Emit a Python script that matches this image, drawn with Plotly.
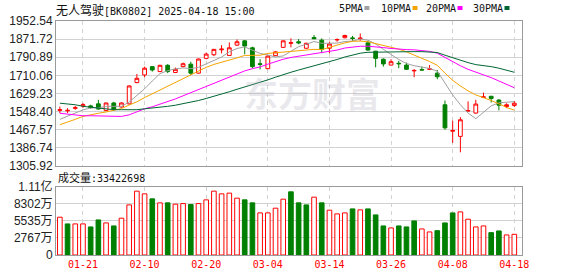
import plotly.graph_objects as go

# ---------------- data ----------------
dates = ["01-16","01-17","01-20","01-21","01-22","01-23","01-24","01-27",
         "02-05","02-06","02-07","02-10","02-11","02-12","02-13","02-14","02-17","02-18","02-19","02-20",
         "02-21","02-24","02-25","02-26","02-27","02-28","03-03","03-04","03-05","03-06","03-07","03-10",
         "03-11","03-12","03-13","03-14","03-17","03-18","03-19","03-20","03-21","03-24","03-25","03-26",
         "03-27","03-28","03-31","04-01","04-02","04-03","04-07","04-08","04-09","04-10","04-11","04-14",
         "04-15","04-16","04-17","04-18"]

opens  = [1554,1552,1563,1574,1574,1583,1553,1587,1569,1583,1678,1712,1749,1727,1755,1723,1749,1760,1720,1786,
          1802,1824,1799,1845,1864,1833,1762,1740,1798,1835,1853,1860,1831,1879,1867,1831,1868,1878,1877,1874,
          1855,1818,1782,1756,1764,1756,1730,1736,1737,1720,1579,1461,1438,1551,1542,1612,1617,1600,1571,1576]
highs  = [1571,1564,1574,1587,1579,1601,1588,1592,1590,1665,1716,1749,1752,1757,1760,1745,1767,1771,1785,1812,
          1828,1845,1857,1870,1867,1838,1782,1798,1818,1866,1875,1872,1856,1890,1875,1860,1875,1891,1886,1897,
          1863,1819,1786,1782,1775,1767,1738,1749,1756,1734,1598,1508,1524,1594,1601,1633,1617,1604,1586,1596]
lows   = [1542,1542,1557,1565,1561,1557,1552,1553,1567,1580,1675,1702,1727,1725,1720,1721,1746,1712,1718,1782,
          1796,1808,1797,1841,1804,1742,1737,1738,1796,1833,1835,1849,1829,1872,1809,1809,1860,1875,1864,1864,
          1820,1746,1749,1755,1742,1734,1702,1731,1734,1693,1468,1409,1367,1549,1539,1609,1589,1554,1564,1569]
closes = [1557,1554,1566,1579,1567,1560,1587,1560,1587,1663,1697,1742,1734,1755,1727,1737,1762,1720,1783,1805,
          1826,1827,1833,1860,1841,1749,1759,1796,1815,1864,1856,1855,1853,1873,1826,1850,1870,1888,1875,1876,
          1823,1786,1761,1771,1762,1737,1732,1734,1739,1704,1476,1464,1512,1553,1582,1614,1607,1577,1579,1586]
prev_close = 1525

ma5  = [1514,1528,1541,1556,1565,1565,1572,1571,1572,1591,1619,1650,1685,1718,1731,1739,1743,1740,1746,1761,
        1779,1792,1815,1830,1837,1822,1808,1801,1792,1797,1818,1838,1849,1861,1853,1852,1854,1861,1863,1872,
        1867,1850,1825,1803,1781,1763,1753,1747,1741,1729,1677,1623,1579,1542,1517,1545,1574,1588,1592,1593]
ma10 = [1490,1501,1514,1527,1535,1541,1547,1553,1562,1578,1592,1611,1628,1645,1661,1679,1696,1712,1732,1746,
        1759,1768,1778,1788,1799,1801,1800,1808,1811,1817,1820,1823,1825,1826,1825,1835,1846,1855,1862,1863,
        1860,1852,1843,1833,1827,1815,1802,1786,1772,1755,1720,1688,1663,1641,1623,1611,1598,1583,1567,1555]
ma20 = [1541,1537,1532,1530,1530,1529,1528,1527,1527,1534,1548,1561,1570,1581,1592,1605,1619,1633,1648,1662,
        1676,1689,1703,1717,1730,1740,1748,1760,1772,1782,1790,1795,1801,1807,1812,1818,1823,1832,1836,1840,
        1840,1838,1834,1830,1826,1825,1824,1821,1817,1809,1790,1770,1753,1737,1725,1713,1700,1685,1669,1655]
ma30 = [1586,1583,1579,1572,1568,1563,1560,1557,1557,1557,1557,1561,1564,1568,1572,1577,1583,1590,1598,1607,
        1616,1626,1637,1648,1658,1668,1679,1690,1702,1714,1724,1734,1743,1753,1762,1772,1781,1792,1802,1809,
        1813,1814,1815,1816,1817,1817,1816,1816,1815,1812,1800,1788,1777,1767,1758,1754,1749,1742,1734,1724]

volumes = [61070000,50220000,50220000,50220000,45360000,56700000,51840000,46980000,59450000,81000000,
           103190000,98820000,90720000,84240000,84240000,82130000,83110000,81490000,83110000,89100000,
           103190000,98820000,99950000,91850000,89100000,84240000,68040000,68040000,75650000,90230000,
           102060000,84240000,81000000,93470000,84240000,72410000,66420000,68040000,74520000,72900000,
           74520000,64800000,46980000,43740000,46980000,45360000,55080000,42120000,37260000,39370000,
           51840000,68040000,69660000,57830000,45360000,46980000,36130000,38880000,32400000,33422698]

price_ticks = [1305.92,1386.74,1467.57,1548.40,1629.23,1710.06,1790.89,1871.72,1952.54]
vol_ticks = [0,27675000,55350000,83025000,110700000]
vol_tick_labels = ["0","2767万","5535万","8302万","1.11亿"]
date_tick_labels = ["01-21","02-10","02-20","03-04","03-14","03-26","04-08","04-18"]

title_name = "无人驾驶"
title_rest = "[BK0802] 2025-04-18 15:00"
vol_title = "成交量"
ma_names = ["5PMA","10PMA","20PMA","30PMA"]

# ---------------- styling ----------------
W, H = 578, 276
L, R = 56, 522
RED = "#ff0000"
GREEN = "#008000"
GRID = "#d2d2d2"
BORDER = "#9a9a9a"
ma_colors = ["#a0a0a0", "#f5a300", "#ff00ff", "#006633"]

def px_x(p):
    return (p - L) / (R - L)

def px_y(p):
    return 1 - p / H

fig = go.Figure()

for name, vals, col in zip(ma_names, [ma5, ma10, ma20, ma30], ma_colors):
    fig.add_trace(go.Scatter(x=dates, y=vals, mode="lines", name=name,
                             line=dict(color=col, width=1), xaxis="x", yaxis="y",
                             hoverinfo="skip", showlegend=False))

fig.add_trace(go.Candlestick(
    x=dates, open=opens, high=highs, low=lows, close=closes,
    increasing=dict(line=dict(color=RED, width=1), fillcolor="#ffffff"),
    decreasing=dict(line=dict(color=GREEN, width=1), fillcolor=GREEN),
    whiskerwidth=0, xaxis="x", yaxis="y", showlegend=False, hoverinfo="skip"))

up = [closes[i] >= (closes[i - 1] if i > 0 else prev_close) for i in range(len(closes))]
fig.add_trace(go.Bar(
    x=dates, y=volumes, xaxis="x2", yaxis="y2", width=0.6,
    marker=dict(color=["#ffffff" if u else GREEN for u in up],
                line=dict(color=[RED if u else GREEN for u in up], width=1)),
    showlegend=False, hoverinfo="skip"))

axis_common = dict(type="category", categoryorder="array", categoryarray=dates,
                   range=[-0.5, 60.0], showline=True, mirror=True, linecolor=BORDER, linewidth=1,
                   showgrid=True, gridcolor=GRID, griddash="4px,4px", gridwidth=1,
                   tickvals=date_tick_labels, ticks="", zeroline=False, fixedrange=True,
                   automargin=False)

fig.update_layout(
    template="none",
    width=W, height=H, margin=dict(l=L, r=W - R, t=0, b=0, pad=0, autoexpand=False),
    paper_bgcolor="white", plot_bgcolor="white",
    showlegend=False,
    xaxis=dict(**axis_common, anchor="y", showticklabels=False,
               rangeslider=dict(visible=False)),
    yaxis=dict(domain=[px_y(166), px_y(21)], range=[1305.92, 1952.54],
               tickvals=price_ticks, ticktext=[f"{v:.2f}" for v in price_ticks],
               showgrid=True, gridcolor=GRID, showline=True, mirror=True, linecolor=BORDER,
               ticks="", zeroline=False, fixedrange=True, automargin=False,
               tickfont=dict(family="Liberation Sans, Arial", size=12, color="#222222")),
    xaxis2=dict(**axis_common, anchor="y2", showticklabels=True, ticktext=date_tick_labels,
                tickfont=dict(family="DejaVu Sans Mono, monospace", size=10, color=RED)),
    yaxis2=dict(domain=[px_y(255), px_y(186.5)], range=[0, vol_ticks[-1]],
                tickvals=vol_ticks, ticktext=vol_tick_labels,
                showgrid=True, gridcolor=GRID, showline=True, mirror=True, linecolor=BORDER,
                ticks="", zeroline=False, fixedrange=True, automargin=False,
                tickfont=dict(family="Liberation Sans, Noto Sans CJK SC", size=12, color="#222222")),
)

annotations = []
# watermark
annotations.append(dict(text="东方财富", x=px_x(312), y=px_y(93), xref="paper", yref="paper",
                        showarrow=False, xanchor="center", yanchor="middle",
                        font=dict(family="Noto Sans CJK SC", size=34, color="rgba(170,170,185,0.25)",
                                  weight="bold")))
# title
annotations.append(dict(
    text=f"<span style='font-family:Noto Sans CJK SC;font-size:12px'>{title_name}</span>{title_rest}",
    x=px_x(54), y=px_y(9.5), xref="paper", yref="paper", showarrow=False,
    xanchor="left", yanchor="middle",
    font=dict(family="DejaVu Sans Mono, monospace", size=10, color="#111111")))
# volume title
annotations.append(dict(
    text=f"<span style='font-family:Noto Sans CJK SC;font-size:11px'>{vol_title}</span>:{volumes[-1]}",
    x=px_x(56), y=px_y(177), xref="paper", yref="paper", showarrow=False,
    xanchor="left", yanchor="middle",
    font=dict(family="DejaVu Sans Mono, monospace", size=10, color="#111111")))

legend_x = [337, 379, 424, 471]
shapes = []
for name, col, lx in zip(ma_names, ma_colors, legend_x):
    annotations.append(dict(text=name, x=px_x(lx), y=px_y(8.5), xref="paper", yref="paper",
                            showarrow=False, xanchor="left", yanchor="middle",
                            font=dict(family="DejaVu Sans Mono, monospace", size=10, color="#111111")))
    sx = lx + 6.1 * len(name) + 3
    shapes.append(dict(type="rect", xref="paper", yref="paper",
                       x0=px_x(sx), x1=px_x(sx + 5), y0=px_y(10), y1=px_y(6),
                       fillcolor=col, line=dict(width=0)))

fig.update_layout(annotations=annotations, shapes=shapes)

fig.write_html("out.html", config={"displayModeBar": False, "staticPlot": True})
